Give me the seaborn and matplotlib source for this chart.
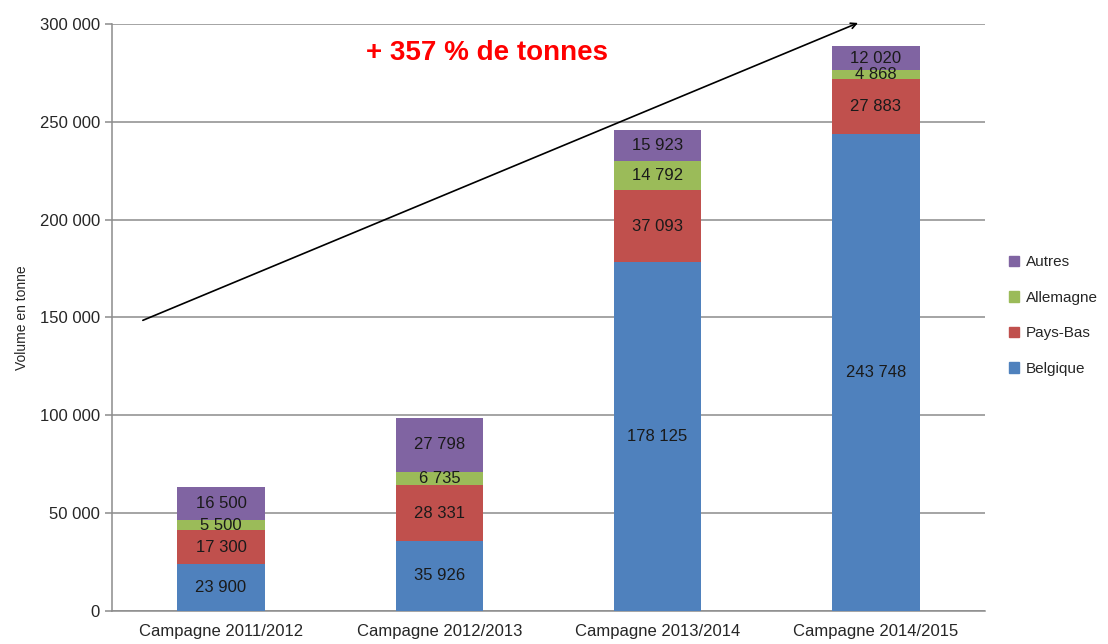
import numpy as np
import matplotlib.pyplot as plt
import seaborn as sns
import pandas as pd
from matplotlib.patches import Patch
from matplotlib.ticker import FuncFormatter

sns.set_style("white")
plt.rcParams['font.family'] = ['Liberation Sans', 'DejaVu Sans']

# data
campagnes = ["Campagne 2011/2012", "Campagne 2012/2013", "Campagne 2013/2014", "Campagne 2014/2015"]
belgique = [23900, 35926, 178125, 243748]
pays_bas = [17300, 28331, 37093, 27883]
allemagne = [5500, 6735, 14792, 4868]
autres = [16500, 27798, 15923, 12020]

series = ["Belgique", "Pays-Bas", "Allemagne", "Autres"]
colors = ["#4F81BD", "#C0504D", "#9BBB59", "#8064A2"]

df = pd.DataFrame({"campagne": campagnes, "Belgique": belgique, "Pays-Bas": pays_bas,
                   "Allemagne": allemagne, "Autres": autres})
cum = df[series].cumsum(axis=1)

fig = plt.figure(figsize=(11.08, 6.44), dpi=100)
ax = fig.add_axes([0.101, 0.051, 0.788, 0.912])

# stacked bars: draw cumulative totals from top layer down
for s, c in reversed(list(zip(series, colors))):
    sns.barplot(x=df["campagne"], y=cum[s], color=c, width=0.4, saturation=1,
                linewidth=0, ax=ax, zorder=3)

# labels in the middle of each segment
for i in range(len(campagnes)):
    bottom = 0
    for s in series:
        v = df[s][i]
        ax.text(i, bottom + v / 2, f"{v:,.0f}".replace(",", " "), ha="center", va="center",
                fontsize=12, color="#1a1a1a", zorder=4)
        bottom += v

ax.set_ylim(0, 300000)
ax.set_xlim(-0.5, 3.5)
ax.set_yticks(np.arange(0, 300001, 50000))
ax.yaxis.set_major_formatter(FuncFormatter(lambda v, p: f"{v:,.0f}".replace(",", " ")))
ax.grid(axis="y", color="#8c8c8c", lw=1.1, zorder=0)
ax.set_axisbelow(True)

ax.set_xticks(range(4))
ax.set_xticklabels(campagnes, fontsize=12)
ax.set_xticks(np.arange(-0.5, 4, 1), minor=True)
ax.tick_params(axis="x", which="major", length=0, pad=9)
ax.tick_params(axis="x", which="minor", length=5, color="#8c8c8c", width=1.1)
ax.tick_params(axis="y", length=5, color="#8c8c8c", width=1.1, labelsize=12, left=True)
ax.set_xlabel("")
ax.set_ylabel("Volume en tonne", fontsize=10, labelpad=8)

for side in ["top", "right"]:
    ax.spines[side].set_visible(False)
for side in ["left", "bottom"]:
    ax.spines[side].set_color("#8c8c8c")
    ax.spines[side].set_linewidth(1.1)

# trend arrow and headline
ax.annotate("", xy=(2.93, 301000), xytext=(-0.37, 148000),
            arrowprops=dict(arrowstyle="->", color="black", lw=1.2),
            annotation_clip=False, zorder=5)
ax.text(1.22, 285000, "+ 357 % de tonnes", ha="center", va="center",
        color="red", fontsize=20, fontweight="bold")

handles = [Patch(color=c, label=s) for s, c in zip(series, colors)][::-1]
fig.legend(handles=handles, loc="center left", bbox_to_anchor=(0.898, 0.51), frameon=False,
           fontsize=11, handlelength=0.7, handleheight=0.7, handletextpad=0.4, labelspacing=1.4)

plt.savefig("out.png", dpi=100)
